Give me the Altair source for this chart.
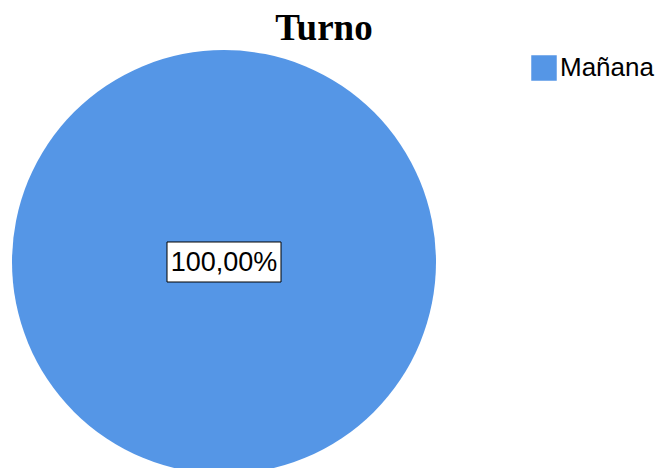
import altair as alt
import pandas as pd

categories = ["Mañana"]
values = [100.0]
labels = ["100,00%"]

df = pd.DataFrame({"Turno": categories, "Porcentaje": values, "Etiqueta": labels})

base = alt.Chart(df)

pie = base.mark_arc(radius=212, stroke=None).encode(
    theta=alt.Theta("Porcentaje:Q", stack=True),
    color=alt.Color(
        "Turno:N",
        scale=alt.Scale(domain=categories, range=["#5596E6"]),
        legend=alt.Legend(
            orient="none",
            legendX=523,
            legendY=-3,
            title=None,
            symbolType="square",
            symbolSize=650,
            symbolStrokeWidth=0,
            symbolOpacity=1,
            labelFont="Liberation Sans",
            labelFontSize=26,
            labelColor="#000000",
            labelOffset=3,
            padding=0,
        ),
    ),
)

box = base.mark_point(
    shape="M-1,-0.351H1V0.351H-1Z",
    size=12996,
    filled=True,
    fill="white",
    stroke="#000000",
    strokeWidth=1,
    opacity=1,
)

text = base.mark_text(
    font="Liberation Sans",
    fontSize=27,
    color="#000000",
    baseline="middle",
    align="center",
    dy=1,
).encode(text="Etiqueta:N")

chart = (
    alt.layer(pie, box, text)
    .properties(
        width=432,
        height=408,
        title=alt.TitleParams(
            "Turno",
            font="Liberation Serif",
            fontSize=37,
            fontWeight="bold",
            color="#000000",
            anchor="middle",
            frame="group",
            dx=100,
            dy=27,
            baseline="alphabetic",
            offset=0,
        ),
        autosize=alt.AutoSizeParams(type="none"),
        padding={"top": 50, "left": 0, "right": 215, "bottom": 10},
    )
    .configure_view(stroke=None)
    .configure(background="white")
)

chart.save("out.html", embed_options={"renderer": "svg", "actions": False})
